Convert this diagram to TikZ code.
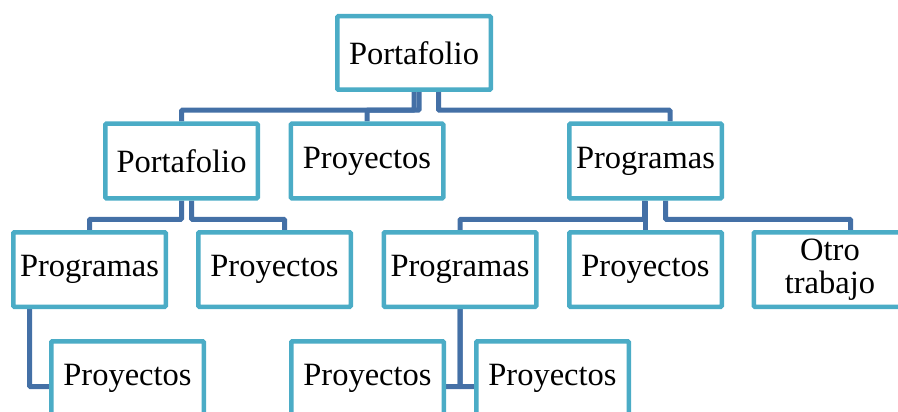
\documentclass[tikz,border=0pt]{standalone}
\usepackage{fontspec}
\setmainfont{Liberation Serif}
\usetikzlibrary{backgrounds}
\definecolor{boxc}{RGB}{75,172,198}
\definecolor{connc}{RGB}{68,112,166}
\tikzset{
  box/.style={draw=boxc, line width=4.5pt, fill=white, rounded corners=1pt,
    minimum width=152.5pt, minimum height=74.5pt, inner sep=0pt, align=center,
    font=\fontsize{32.5}{33}\selectfont},
  conn/.style={draw=connc, line width=5pt, rounded corners=1pt}
}
\begin{document}
\begin{tikzpicture}[x=1pt,y=-1pt]
\useasboundingbox (0,0) rectangle (898,412);
\clip (0,0) rectangle (898,412);
% nodes
\node[box, minimum width=153.5pt, minimum height=73.5pt] (top) at (414,53) {Portafolio};
\node[box] (pa) at (181.5,161) {Portafolio};
\node[box] (pb) at (367,161) {Proyectos};
\node[box] (pc) at (645.5,161) {Programas};
\node[box] (qa) at (89.5,269.5) {Programas};
\node[box] (qb) at (274.5,269.5) {Proyectos};
\node[box] (qc) at (460,269.5) {Programas};
\node[box] (qd) at (645.5,269.5) {Proyectos};
\node[box] (qe) at (830,269.5) {Otro\\trabajo};
\node[box] (ra) at (127.5,378.5) {Proyectos};
\node[box] (rb) at (367.5,378.5) {Proyectos};
\node[box] (rc) at (552.5,378.5) {Proyectos};
% connectors (behind the boxes)
\begin{scope}[on background layer]
\draw[conn] (top.south) -- ++(0,18.25) -| (pa.north);
\draw[conn] ([xshift=5pt]top.south) -- ++(0,18.25) -| (pb.north);
\draw[conn] ([xshift=24.5pt]top.south) -- ++(0,18.25) -| ([xshift=24.5pt]pc.north);
\draw[conn] (pa.south) -- ++(0,18.75) -| (qa.north);
\draw[conn] ([xshift=10pt]pa.south) -- ++(0,18.75) -| ([xshift=10pt]qb.north);
\draw[conn] ([xshift=-1pt]pc.south) -- ++(0,18.75) -| (qc.north);
\draw[conn] (pc.south) -- (qd.north);
\draw[conn] ([xshift=20pt]pc.south) -- ++(0,18.75) -| ([xshift=20.5pt]qe.north);
\draw[conn] ([xshift=-60pt]qa.south) |- ([yshift=-8pt]ra.west);
\draw[conn] (qc.south) |- ([yshift=-8pt]rb.east);
\draw[conn] (qc.south) |- ([yshift=-8pt]rc.west);
\end{scope}
\end{tikzpicture}
\end{document}
